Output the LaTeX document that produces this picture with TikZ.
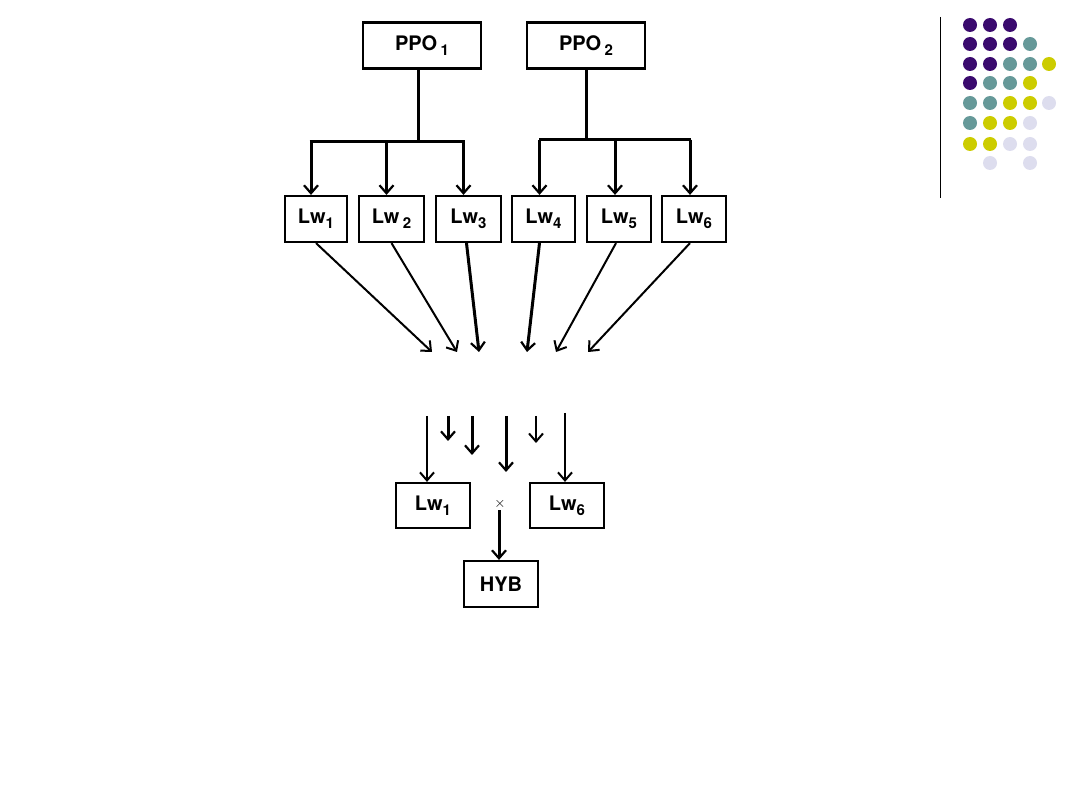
\documentclass[tikz,border=0pt]{standalone}
\usepackage{fontspec}
\setmainfont{TeX Gyre Heros}
\usetikzlibrary{arrows.meta}
\definecolor{dpurple}{HTML}{3A0A6E}
\definecolor{dteal}{HTML}{669999}
\definecolor{dyellow}{HTML}{CCCC00}
\definecolor{dlav}{HTML}{DDDDEE}
\newcommand{\lsub}[1]{\raisebox{-0.5ex}{\fontsize{15}{15}\selectfont #1}}
\begin{document}
\begin{tikzpicture}[x=1pt,y=-1pt,
  box/.style={draw, line width=2.2pt, inner sep=0pt, minimum height=46pt,
    font=\fontsize{20}{20}\selectfont\bfseries},
  trunk/.style={line width=3pt},
  arr/.style={line width=2pt, -{Straight Barb[length=8pt,width=14pt,line width=2pt]}},
  thickarr/.style={line width=3pt, -{Straight Barb[length=8pt,width=14pt,line width=2.2pt]}}
]
\useasboundingbox (0,0) rectangle (1080,810);

% top boxes
\node[box, minimum width=118pt] (ppo1) at (422,45.5) {PPO\,\lsub{1}};
\node[box, minimum width=118pt] (ppo2) at (586,45.5) {PPO\,\lsub{2}};

\node[box, minimum width=62pt] (lw1) at (316,219) {Lw\lsub{1}};
\node[box, minimum width=65pt] (lw2) at (391.5,219) {Lw\,\lsub{2}};
\node[box, minimum width=65pt] (lw3) at (468.5,219) {Lw\lsub{3}};
\node[box, minimum width=63pt] (lw4) at (543.5,219) {Lw\lsub{4}};
\node[box, minimum width=64pt] (lw5) at (619,219) {Lw\lsub{5}};
\node[box, minimum width=64pt] (lw6) at (694,219) {Lw\lsub{6}};

% tree connectors
\draw[trunk] ([xshift=-4pt]ppo1.south) -- ++(0,72) coordinate (j1);
\draw[trunk] ([xshift=-6.5pt]lw1.north |- j1) -- ([xshift=-3.5pt]lw3.north |- j1);
\foreach \n in {lw1,lw2,lw3}
  \draw[thickarr] ([xshift=-5pt]\n.north |- j1) -- ([xshift=-5pt]\n.north);
\draw[trunk] (ppo2.south) -- ++(0,70) coordinate (j2);
\draw[trunk] ([xshift=-4.5pt]lw4.north |- j2) -- ([xshift=-3.5pt]lw6.north |- j2);
\foreach \n in {lw4,lw5,lw6}
  \draw[thickarr] ([xshift=-4pt]\n.north |- j2) -- ([xshift=-4pt]\n.north);

% converging arrows
\coordinate (e1) at (432,352);
\coordinate (e2) at (457,352);
\coordinate (e3) at (479,352);
\coordinate (e4) at (527,352);
\coordinate (e5) at (556,352);
\coordinate (e6) at (588,352);
\draw[arr] (lw1.south) -- (e1);
\draw[arr] (lw2.south) -- (e2);
\draw[thickarr] ([xshift=-2pt]lw3.south) -- (e3);
\draw[thickarr] ([xshift=-4pt]lw4.south) -- (e4);
\draw[arr] ([xshift=-3pt]lw5.south) -- (e5);
\draw[arr] ([xshift=-4pt]lw6.south) -- (e6);

% bottom part
\node[box, minimum width=74pt, minimum height=45pt] (b1) at (433,505.5) {Lw\lsub{1}};
\node[box, minimum width=74pt, minimum height=45pt] (b6) at (567,505.5) {Lw\lsub{6}};
\node[font=\fontsize{15}{15}\selectfont, inner sep=1pt] (x) at (500,504) {$\times$};
\node[box, minimum width=74pt, minimum height=46pt] (hyb) at (501,584) {HYB};

\coordinate (s1) at (427,416);
\coordinate (s2) at (448,416);
\coordinate (f2) at (448,441);
\coordinate (s3) at (472,416);
\coordinate (f3) at (472,455);
\coordinate (s4) at (506,416);
\coordinate (f4) at (506,472);
\coordinate (s5) at (536,416);
\coordinate (f5) at (536,443);
\coordinate (s6) at (565,413);
\draw[arr] (s1) -- (s1 |- b1.north);
\draw[thickarr] (s2) -- (f2);
\draw[thickarr] (s3) -- (f3);
\draw[thickarr] (s4) -- (f4);
\draw[arr] (s5) -- (f5);
\draw[arr] (s6) -- (s6 |- b6.north);
\draw[thickarr] ([xshift=-1pt]x.south) -- ([xshift=-2pt]hyb.north);

% decoration
\draw[line width=1pt] (940,17) -- (940,198);
\foreach \c/\r/\col in {
  970/25/dpurple, 990/25/dpurple, 1010/25/dpurple,
  970/44/dpurple, 990/44/dpurple, 1010/44/dpurple, 1030/44/dteal,
  970/64/dpurple, 990/64/dpurple, 1010/64/dteal, 1030/64/dteal, 1049/64/dyellow,
  970/83/dpurple, 990/83/dteal, 1010/83/dteal, 1030/83/dyellow,
  970/103/dteal, 990/103/dteal, 1010/103/dyellow, 1030/103/dyellow, 1049/103/dlav,
  970/123/dteal, 990/123/dyellow, 1010/123/dyellow, 1030/123/dlav,
  970/144/dyellow, 990/144/dyellow, 1010/144/dlav, 1030/144/dlav,
  990/163/dlav, 1030/163/dlav}
  \fill[\col] (\c,\r) circle (7pt);
\end{tikzpicture}
\end{document}
